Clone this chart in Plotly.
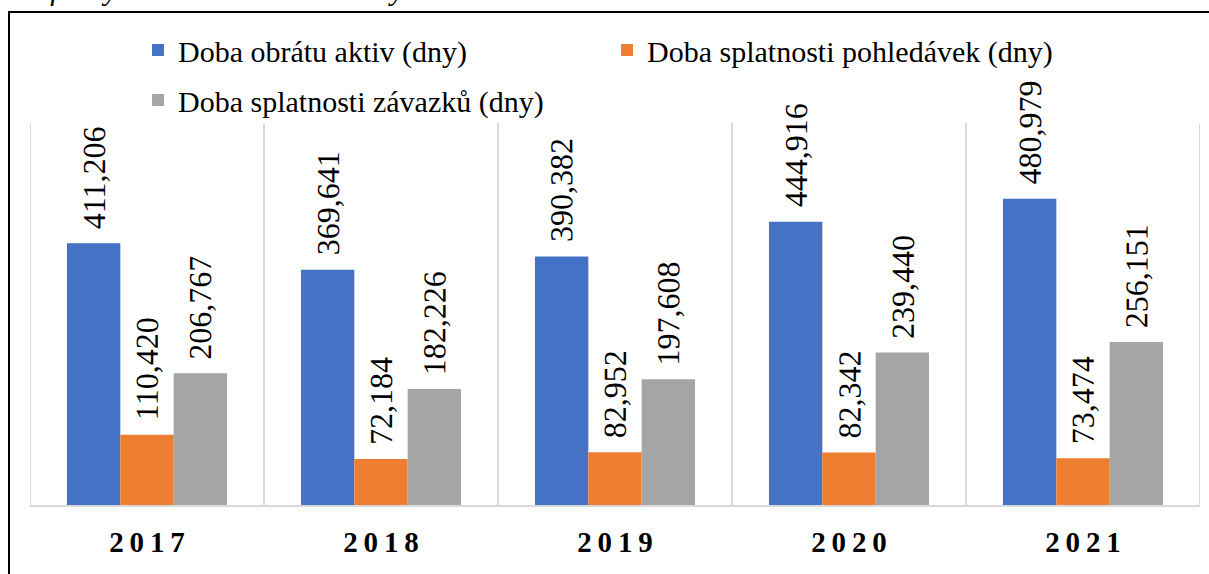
import plotly.graph_objects as go

years = ["2017", "2018", "2019", "2020", "2021"]
year_labels = ["2\u20090\u20091\u20097", "2\u20090\u20091\u20098", "2\u20090\u20091\u20099", "2\u20090\u20092\u20090", "2\u20090\u20092\u20091"]
obrat_aktiv = [411.206, 369.641, 390.382, 444.916, 480.979]
splat_pohledavek = [110.420, 72.184, 82.952, 82.342, 73.474]
splat_zavazku = [206.767, 182.226, 197.608, 239.440, 256.151]

series = [
    ("Doba obrátu aktiv (dny)", obrat_aktiv, "#4472C4", "legend"),
    ("Doba splatnosti pohledávek (dny)", splat_pohledavek, "#ED7D31", "legend"),
    ("Doba splatnosti závazků (dny)", splat_zavazku, "#A5A5A5", "legend2"),
]

W, H = 1209, 574
L, R, T, B = 30, 9, 123, 69
pw, ph = W - L - R, H - T - B
BARGAP = 0.316

def px_x(p):
    return (p - L) / pw

def px_y(p):
    return (H - B - p) / ph

FONT = "Liberation Serif"
xs = list(range(len(years)))

fig = go.Figure()
annotations = []
n = len(series)
bw = (1 - BARGAP) / n
for k, (name, vals, col, leg) in enumerate(series):
    fig.add_trace(go.Bar(
        x=xs, y=vals, name=name, legend=leg,
        marker=dict(color=col, line=dict(width=0)),
        cliponaxis=False,
    ))
    off = (k - (n - 1) / 2) * bw
    for xi, v in zip(xs, vals):
        annotations.append(dict(
            x=xi + off, y=v, xref="x", yref="y",
            text=f"{v:.3f}".replace(".", ","),
            textangle=-89.9, showarrow=False,
            xanchor="center", yanchor="bottom", yshift=12,
            font=dict(family=FONT, size=32, color="black"),
        ))

shapes = []
for i in range(len(years) + 1):
    shapes.append(dict(type="line", xref="x", yref="paper", x0=i - 0.5, x1=i - 0.5,
                       y0=0, y1=1, line=dict(color="#D9D9D9", width=2), layer="below"))
shapes.append(dict(type="rect", xref="paper", yref="paper",
                   x0=px_x(9), x1=px_x(1220), y0=px_y(12), y1=px_y(590),
                   line=dict(color="black", width=2), fillcolor="rgba(0,0,0,0)"))

annotations.append(dict(text="<i>Graf 6 Vybrané ukazatele aktivity</i>", xref="paper", yref="paper",
                        x=px_x(0), y=px_y(8), xanchor="left", yanchor="bottom", showarrow=False,
                        font=dict(family=FONT, size=30, color="black")))

legfont = dict(family=FONT, size=30, color="black")
fig.update_layout(
    width=W, height=H,
    margin=dict(l=L, r=R, t=T, b=B, pad=0),
    paper_bgcolor="white", plot_bgcolor="white",
    barmode="group", bargap=BARGAP, bargroupgap=0,
    font=dict(family=FONT, color="black"),
    shapes=shapes,
    annotations=annotations,
    showlegend=True,
    legend=dict(orientation="h", x=px_x(138), y=px_y(24), xanchor="left", yanchor="top",
                font=legfont, entrywidth=424, entrywidthmode="pixels",
                bgcolor="rgba(0,0,0,0)", traceorder="normal"),
    legend2=dict(orientation="h", x=px_x(138), y=px_y(74), xanchor="left", yanchor="top",
                 font=legfont, bgcolor="rgba(0,0,0,0)"),
    xaxis=dict(tickmode="array", tickvals=xs, ticktext=year_labels,
               range=[-0.5, len(years) - 0.5],
               showgrid=False, zeroline=False, showline=True, linecolor="#D9D9D9", linewidth=2,
               ticks="", ticklabelstandoff=10,
               tickfont=dict(family=FONT, size=29, color="black", weight="bold")),
    yaxis=dict(range=[0, 600], visible=False, showgrid=False, zeroline=False),
)

fig.write_html("out.html", config={"displayModeBar": False},
               post_script="document.body.style.margin='0';document.body.style.overflow='hidden';")
